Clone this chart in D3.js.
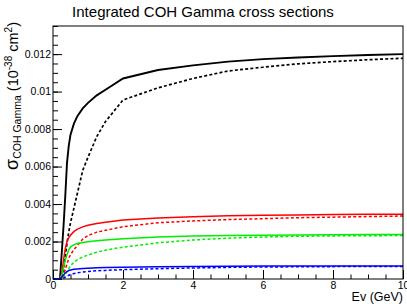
<!DOCTYPE html>
<html>
<head>
<meta charset="utf-8">
<script src="https://cdn.jsdelivr.net/npm/d3@7"></script>
<style>
  body { margin: 0; background: #fff; }
  svg { display: block; font-family: "Liberation Sans", Arial, sans-serif; }
</style>
</head>
<body>
<svg id="chart" width="407" height="304"></svg>
<script>
// neutrino energy (GeV)
var energy = [0, 0.2, 0.25, 0.3, 0.35, 0.4, 0.45, 0.5, 0.6, 0.7, 0.85, 1, 1.25, 1.5, 2, 3, 4, 5, 6, 7, 8, 9, 10];

// cross sections (1e-38 cm2)
var blackSolid  = [0, 0, 0.0014, 0.0028, 0.0044, 0.0062, 0.0071, 0.0077, 0.0083, 0.0087, 0.0091, 0.0094, 0.0098, 0.0101, 0.0107, 0.01115, 0.0114, 0.0116, 0.01173, 0.01182, 0.01189, 0.01195, 0.0120];
var blackDashed = [0, 0, 0, 0.0004, 0.0012, 0.0019, 0.0025, 0.0030, 0.0038, 0.0046, 0.0058, 0.0065, 0.0076, 0.0084, 0.00955, 0.0102, 0.0107, 0.0111, 0.0113, 0.01148, 0.0116, 0.0117, 0.01178];
var redSolid    = [0, 0, 0.0003, 0.0010, 0.0016, 0.0020, 0.0022, 0.00233, 0.00254, 0.00266, 0.00278, 0.00287, 0.00296, 0.00303, 0.00315, 0.00326, 0.00332, 0.00337, 0.0034, 0.00342, 0.00344, 0.00345, 0.00346];
var redDashed   = [0, 0, 0, 0.0002, 0.0005, 0.0008, 0.0011, 0.0013, 0.00158, 0.0018, 0.00213, 0.00232, 0.0025, 0.0026, 0.00279, 0.003, 0.0031, 0.00317, 0.00322, 0.00327, 0.0033, 0.00333, 0.00336];
var greenSolid  = [0, 0, 0.0002, 0.0006, 0.0010, 0.0013, 0.00155, 0.0017, 0.00183, 0.0019, 0.00195, 0.00199, 0.00204, 0.00208, 0.00215, 0.00224, 0.00229, 0.00232, 0.00234, 0.00235, 0.00236, 0.00237, 0.00238];
var greenDashed = [0, 0, 0, 0.0001, 0.0002, 0.0004, 0.00055, 0.0007, 0.0009, 0.00103, 0.00118, 0.00128, 0.00143, 0.00154, 0.0017, 0.00193, 0.00208, 0.00218, 0.00224, 0.00228, 0.0023, 0.00231, 0.00232];
var blueSolid   = [0, 0, 0.0001, 0.00022, 0.00032, 0.0004, 0.00045, 0.00048, 0.00052, 0.00054, 0.00056, 0.00058, 0.0006, 0.00061, 0.00063, 0.00065, 0.00067, 0.00068, 0.00069, 0.00069, 0.0007, 0.0007, 0.0007];
var blueDashed  = [0, 0, 0, 0.00003, 0.0001, 0.00015, 0.0002, 0.00024, 0.00029, 0.00033, 0.00037, 0.0004, 0.00044, 0.00046, 0.0005, 0.00055, 0.00059, 0.00062, 0.00064, 0.00065, 0.00066, 0.00067, 0.00067];

var xTicks = [0, 2, 4, 6, 8, 10];
var yTicks = [0, 0.002, 0.004, 0.006, 0.008, 0.01, 0.012];

(function() {
  'use strict';
  var left = 53, right = 403, top = 26, bottom = 279;

  var svg = d3.select('#chart');

  var x = d3.scaleLinear().domain([0, 10]).range([left, right]);
  var y = d3.scaleLinear().domain([0, 0.0135]).range([bottom, top]);

  var series = [
    { v: blackSolid,  color: '#000', width: 1.9, dash: null },
    { v: blackDashed, color: '#000', width: 1.7, dash: '3,2.2' },
    { v: redSolid,    color: '#ff0000', width: 1.5, dash: null },
    { v: redDashed,   color: '#ff0000', width: 1.5, dash: '3,2.2' },
    { v: greenSolid,  color: '#00ee00', width: 1.5, dash: null },
    { v: greenDashed, color: '#00ee00', width: 1.5, dash: '3,2.2' },
    { v: blueSolid,   color: '#0000ff', width: 1.5, dash: null },
    { v: blueDashed,  color: '#0000ff', width: 1.5, dash: '3,2.2' }
  ];

  var line = d3.line()
    .x(function(d) { return x(d[0]); })
    .y(function(d) { return y(d[1]); });

  // minor ticks
  svg.append('g')
    .attr('transform', 'translate(0,' + bottom + ')')
    .call(d3.axisBottom(x).tickValues(d3.range(0, 10.01, 0.5)).tickSize(-4.5).tickFormat(''))
    .call(function(g) { g.select('.domain').remove(); });
  svg.append('g')
    .attr('transform', 'translate(' + left + ',0)')
    .call(d3.axisLeft(y).tickValues(d3.range(0, 0.01351, 0.0005)).tickSize(-5).tickFormat(''))
    .call(function(g) { g.select('.domain').remove(); });

  // major ticks
  var xAxis = svg.append('g')
    .attr('transform', 'translate(0,' + bottom + ')')
    .call(d3.axisBottom(x).tickValues(xTicks).tickSize(-9).tickPadding(3).tickFormat(d3.format('')));
  xAxis.select('.domain').remove();
  xAxis.selectAll('text').attr('font-size', 10.5).attr('font-family', 'Liberation Sans, Arial, sans-serif').attr('fill', '#000');

  var yAxis = svg.append('g')
    .attr('transform', 'translate(' + left + ',0)')
    .call(d3.axisLeft(y).tickValues(yTicks).tickSize(-9).tickPadding(2).tickFormat(d3.format('')));
  yAxis.select('.domain').remove();
  yAxis.selectAll('text').attr('font-size', 10.5).attr('font-family', 'Liberation Sans, Arial, sans-serif').attr('fill', '#000');

  svg.selectAll('.tick line').attr('stroke', '#000');

  // curves
  svg.append('g').selectAll('path')
    .data(series)
    .enter().append('path')
      .attr('fill', 'none')
      .attr('stroke', function(d) { return d.color; })
      .attr('stroke-width', function(d) { return d.width; })
      .attr('stroke-dasharray', function(d) { return d.dash; })
      .attr('d', function(d) { return line(d3.zip(energy, d.v)); });

  // frame
  svg.append('rect')
    .attr('x', left).attr('y', top)
    .attr('width', right - left).attr('height', bottom - top)
    .attr('fill', 'none').attr('stroke', '#000').attr('stroke-width', 1);

  // title
  svg.append('text')
    .attr('x', 203).attr('y', 17)
    .attr('text-anchor', 'middle')
    .attr('font-size', 15)
    .text('Integrated COH Gamma cross sections');

  // x label
  svg.append('text')
    .attr('x', 403).attr('y', 301)
    .attr('text-anchor', 'end')
    .attr('font-size', 12.5)
    .text('Ev (GeV)');

  // y label
  var yl = svg.append('text')
    .attr('transform', 'translate(18,' + 22 + ') rotate(-90)')
    .attr('text-anchor', 'end')
    .attr('font-size', 14.5);
  yl.append('tspan').attr('font-size', 18).text('σ');
  yl.append('tspan').attr('font-size', 10.5).attr('dy', 3).text('COH Gamma');
  yl.append('tspan').attr('dy', -3).text(' (10');
  yl.append('tspan').attr('font-size', 10).attr('dy', -6).text('-38');
  yl.append('tspan').attr('dy', 6).text(' cm');
  yl.append('tspan').attr('font-size', 10).attr('dy', -6).text('2');
  yl.append('tspan').attr('dy', 6).text(')');
}());
</script>
</body>
</html>
